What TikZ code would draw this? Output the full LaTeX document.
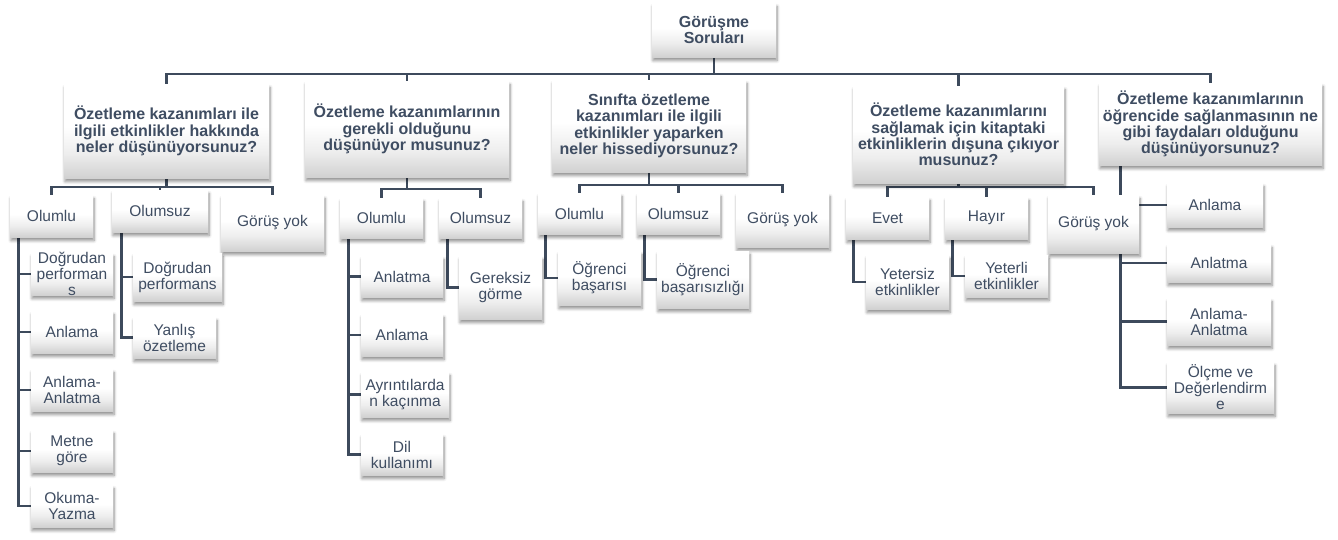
\documentclass[tikz,border=0pt]{standalone}
\usepackage{fontspec}
\setmainfont{Liberation Sans}
\usetikzlibrary{shadows.blur,backgrounds}
\definecolor{txtc}{HTML}{3F4D62}
\definecolor{linec}{HTML}{3D4A5C}
\pgfdeclareverticalshading{boxshade}{100bp}{color(0bp)=(black!18); color(25bp)=(black!18); color(38bp)=(black!7); color(52bp)=(white); color(100bp)=(white)}
\tikzset{
  box/.style={shade, shading=boxshade, inner sep=0pt, align=center, text=txtc,
    font=\fontsize{15.5}{16}\selectfont,
    blur shadow={shadow xshift=1pt, shadow yshift=-3.5pt, shadow blur steps=6, shadow blur radius=3pt, shadow opacity=45}},
  qbox/.style={box, font=\bfseries\fontsize{16}{16.3}\selectfont},
  lbl/.style={inner sep=0pt, align=center, text=txtc, font=\fontsize{15.5}{16}\selectfont},
  conn/.style={draw=linec, line width=2.8pt},
  sz/.style 2 args={minimum width=#1pt, minimum height=#2pt}
}
\begin{document}
\begin{tikzpicture}[x=1pt,y=-1pt]
\useasboundingbox (0,0) rectangle (1338,539);
% root
\node[qbox, sz={124}{54}] (top) at (714,30) {Görüşme\\Soruları};
% questions
\node[qbox, sz={205}{94}] (q1) at (166.5,131) {Özetleme kazanımları ile\\ilgili etkinlikler hakkında\\neler düşünüyorsunuz?};
\node[qbox, sz={204}{96}] (q2) at (407,129) {Özetleme kazanımlarının\\gerekli olduğunu\\düşünüyor musunuz?};
\node[qbox, sz={194}{92}] (q3) at (649,126) {Sınıfta özetleme\\kazanımları ile ilgili\\etkinlikler yaparken\\neler hissediyorsunuz?};
\node[qbox, sz={211}{97}] (q4) at (958.5,134.5) {Özetleme kazanımlarını\\sağlamak için kitaptaki\\etkinliklerin dışuna çıkıyor\\musunuz?};
\node[qbox, sz={223}{82}] (q5) at (1210.5,124) {Özetleme kazanımlarının\\öğrencide sağlanmasının ne\\gibi faydaları olduğunu\\düşünüyorsunuz?};
% Q1 children
\node[box, sz={83}{42}] (o1) at (51.5,216) {Olumlu};
\node[box, sz={96}{42}] (u1) at (160,211) {Olumsuz};
\node[box, sz={103}{56}] (g1) at (272.5,223) {Görüş yok};
\node[box, sz={82}{42}] (dp1) at (72,274) {};
\node[lbl] (dp1t) at (dp1.center) {Doğrudan\\performan\\s};
\node[box, sz={82}{42}] (an1) at (72,332) {Anlama};
\node[box, sz={82}{42}] (aa1) at (72,390) {Anlama-\\Anlatma};
\node[box, sz={82}{42}] (mg1) at (72,451) {Metne\\göre};
\node[box, sz={82}{42}] (oy1) at (72,506) {Okuma-\\Yazma};
\node[box, sz={89}{48}] (dp2) at (177.5,277) {Doğrudan\\performans};
\node[box, sz={83}{41}] (yo2) at (174.5,337.5) {Yanlış\\özetleme};
% Q2 children
\node[box, sz={83}{40}] (o2) at (381.5,218) {Olumlu};
\node[box, sz={83}{40}] (u2) at (480.5,218) {Olumsuz};
\node[box, sz={82}{41}] (at2) at (402,276.5) {Anlatma};
\node[box, sz={82}{42}] (an2) at (402,335) {Anlama};
\node[box, sz={88}{45}] (ak2) at (405,394.5) {Ayrıntılarda\\n kaçınma};
\node[box, sz={82}{41}] (dk2) at (402,454.5) {Dil\\kullanımı};
\node[box, sz={83}{63}] (gg2) at (500.5,287.5) {Gereksiz\\görme};
% Q3 children
\node[box, sz={83}{41}] (o3) at (579.5,213.5) {Olumlu};
\node[box, sz={83}{41}] (u3) at (678.5,213.5) {Olumsuz};
\node[box, sz={93}{54}] (g3) at (782.5,220) {Görüş yok};
\node[box, sz={83}{54}] (ob3) at (599.5,278) {Öğrenci\\başarısı};
\node[box, sz={92}{57}] (os3) at (703,279.5) {Öğrenci\\başarısızlığı};
% Q4 children
\node[box, sz={83}{42}] (e4) at (887.5,218) {Evet};
\node[box, sz={83}{42}] (h4) at (986.5,218) {Hayır};
\node[box, sz={91}{58}] (g4) at (1093.5,224) {Görüş yok};
\node[box, sz={83}{54}] (ye4) at (907.5,282) {Yetersiz\\etkinlikler};
\node[box, sz={83}{42}] (yl4) at (1006.5,276) {Yeterli\\etkinlikler};
% Q5 children
\node[box, sz={96}{44}] (an5) at (1215,205) {Anlama};
\node[box, sz={104}{38}] (at5) at (1219,263) {Anlatma};
\node[box, sz={104}{47}] (aa5) at (1219,321.5) {Anlama-\\Anlatma};
\node[box, sz={107}{51}] (od5) at (1220.5,387.5) {Ölçme ve\\Değerlendirm\\e};

\begin{scope}[on background layer]
% root to questions
\foreach \q in {q1,q2,q3,q4,q5}
  \draw[conn] (top.south) |- (\q.north |- 0,74) -- (\q.north);
% Q1
\foreach \c in {o1,u1,g1}
  \draw[conn] (q1.south) |- (\c.north |- 0,187) -- (\c.north);
\foreach \c in {dp1,an1,aa1,mg1,oy1}
  \draw[conn] ([xshift=9pt]o1.south west) |- (\c.west);
\foreach \c in {dp2,yo2}
  \draw[conn] ([xshift=10pt]u1.south west) |- (\c.west);
% Q2
\foreach \c in {o2,u2}
  \draw[conn] (q2.south) |- (\c.north |- 0,189) -- (\c.north);
\foreach \c in {at2,an2,ak2,dk2}
  \draw[conn] ([xshift=8.5pt]o2.south west) |- (\c.west);
\draw[conn] ([xshift=8.5pt]u2.south west) |- (gg2.west);
% Q3
\foreach \c in {o3,u3,g3}
  \draw[conn] (q3.south) |- (\c.north |- 0,185) -- (\c.north);
\draw[conn] ([xshift=8pt]o3.south west) |- (ob3.west);
\draw[conn] ([xshift=8pt]u3.south west) |- (os3.west);
% Q4
\foreach \c in {e4,h4,g4}
  \draw[conn] (q4.south) |- (\c.north |- 0,187) -- (\c.north);
\draw[conn] ([xshift=8pt]e4.south west) |- (ye4.west);
\draw[conn] ([xshift=8pt]h4.south west) |- (yl4.west);
% Q5
\foreach \c in {an5,at5,aa5,od5}
  \draw[conn] ([xshift=22pt]q5.south west) |- (\c.west);
\end{scope}
\end{tikzpicture}
\end{document}
